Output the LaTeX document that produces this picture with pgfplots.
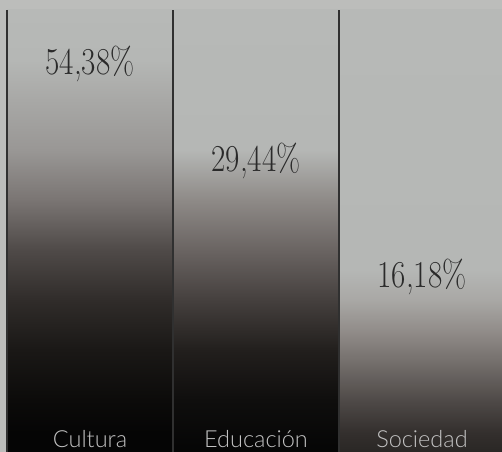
\documentclass[border=0pt]{standalone}
\usepackage{pgfplots}
\pgfplotsset{compat=1.18}
\usepackage{fontspec}
\newfontfamily\pctfont[FakeStretch=0.82]{Latin Modern Roman}
\newfontfamily\labfont{Lato Light}

\definecolor{bgc}{HTML}{BCBDBB}
\definecolor{sep}{HTML}{303030}
\definecolor{pctc}{HTML}{2A2A2A}
\definecolor{labc}{HTML}{C2C2C2}
\definecolor{top}{HTML}{B7B9B7}

% colour stops of the columns (position = 25bp + height% / 2)
\definecolor{g00}{HTML}{050505}
\definecolor{g01}{HTML}{0C0B0A}
\definecolor{g02}{HTML}{1A1816}
\definecolor{g03}{HTML}{302C2A}
\definecolor{g04}{HTML}{4F4A48}
\definecolor{g05}{HTML}{7A7573}
\definecolor{g06}{HTML}{999795}
\definecolor{g07}{HTML}{A8A8A6}
\definecolor{g08}{HTML}{B5B7B5}
\definecolor{e01}{HTML}{0F0E0D}
\definecolor{e02}{HTML}{221F1D}
\definecolor{e03}{HTML}{45403E}
\definecolor{e04}{HTML}{6A6462}
\definecolor{e05}{HTML}{8E8A87}
\definecolor{s00}{HTML}{2A2725}
\definecolor{s01}{HTML}{332F2D}
\definecolor{s02}{HTML}{4F4A48}
\definecolor{s03}{HTML}{6F6A67}
\definecolor{s04}{HTML}{8F8A87}
\definecolor{s05}{HTML}{A9A8A5}

\pgfdeclareverticalshading{cultura}{100bp}{%
  color(0bp)=(g00); color(25bp)=(g00); color(27.15bp)=(g00);
  color(30.9bp)=(g01); color(36.55bp)=(g02); color(42.2bp)=(g03);
  color(47.85bp)=(g04); color(53.5bp)=(g05); color(59.15bp)=(g06);
  color(64.8bp)=(g07); color(69.35bp)=(g08); color(75bp)=(top);
  color(100bp)=(top)}
\pgfdeclareverticalshading{educacion}{100bp}{%
  color(0bp)=(g00); color(25bp)=(g00); color(30.9bp)=(e01);
  color(36.55bp)=(e02); color(42.2bp)=(e03); color(47.85bp)=(e04);
  color(53.5bp)=(e05); color(59.15bp)=(g08); color(75bp)=(top);
  color(100bp)=(top)}
\pgfdeclareverticalshading{sociedad}{100bp}{%
  color(0bp)=(s00); color(25bp)=(s00); color(27.15bp)=(s01);
  color(30.9bp)=(s02); color(34.6bp)=(s03); color(38.45bp)=(s04);
  color(42.2bp)=(s05); color(45.6bp)=(g08); color(75bp)=(top);
  color(100bp)=(top)}

\pgfplotsset{
  base/.style={
    width=502bp, height=452bp, scale only axis,
    xmin=0.4578, xmax=3.482, ymin=0, ymax=102.26,
    axis line style={draw=none},
    xtick=\empty, ytick=\empty,
  },
}
\tikzset{
  pct/.style={anchor=base, text=pctc, font=\pctfont\fontsize{38bp}{42bp}\selectfont},
  lab/.style={anchor=base, text=labc, font=\labfont\fontsize{23.5bp}{26bp}\selectfont},
}

\begin{document}
\begin{tikzpicture}
\begin{axis}[base,
    axis background/.style={fill=bgc},
    ybar, bar width=1, bar shift=0pt,
  ]
  \addplot[draw=none, shade, shading=cultura]   coordinates {(1,100)};
  \addplot[draw=none, shade, shading=educacion] coordinates {(2,100)};
  \addplot[draw=none, shade, shading=sociedad]  coordinates {(3,100)};
\end{axis}
\begin{axis}[base]
  \addplot[ycomb, draw=sep, line width=1.3bp, mark=none]
    coordinates {(0.5,100) (1.5,100) (2.5,100)};
  \node[pct] at (axis cs:1,85.3) {54,38\%};
  \node[pct] at (axis cs:2,63.35) {29,44\%};
  \node[pct] at (axis cs:3,37.3) {16,18\%};
  \node[lab] at (axis cs:1,1.1) {Cultura};
  \node[lab] at (axis cs:2,1.1) {Educación};
  \node[lab] at (axis cs:3,1.1) {Sociedad};
\end{axis}
\end{tikzpicture}
\end{document}
